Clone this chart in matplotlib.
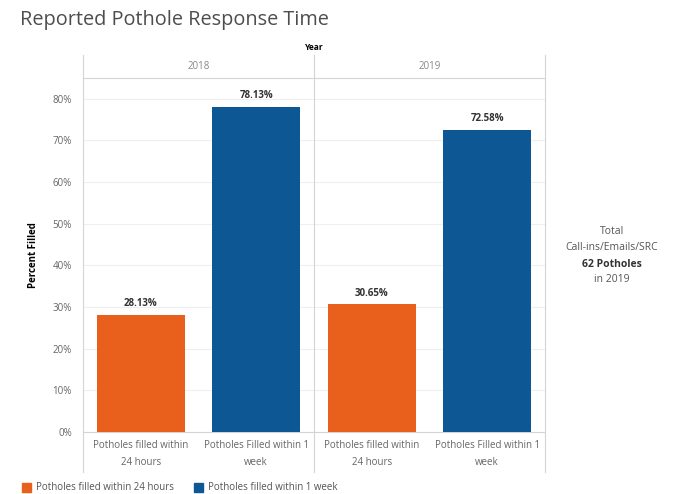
import matplotlib
matplotlib.use("Agg")
import matplotlib.pyplot as plt
import numpy as np
from matplotlib.patches import Rectangle

plt.rcParams["font.family"] = ["Open Sans", "DejaVu Sans"]

years = ["2018", "2019"]
categories = ["Potholes filled within\n24 hours", "Potholes Filled within 1\nweek"]
pct_24h = [28.13, 30.65]
pct_week = [78.13, 72.58]
legend_labels = ["Potholes filled within 24 hours", "Potholes filled within 1 week"]

orange = "#E8601C"
blue = "#0D5794"
text_gray = "#666666"
line_gray = "#d4d4d4"

fig = plt.figure(figsize=(6.88, 4.94), dpi=100)

left, mid, right = 83 / 688, 314 / 688, 545 / 688
bottom, top, head_top = 1 - 432 / 494, 1 - 78 / 494, 1 - 55 / 494
y_max = 85

fig.text(20 / 688, 1 - 20 / 494, "Reported Pothole Response Time", fontsize=14.3,
         color="#4d4d4d", va="center", ha="left")
fig.text(mid, 1 - 47 / 494, "Year", fontsize=6, fontweight="bold", ha="center", va="center")
fig.text(33 / 688, (bottom + top) / 2, "Percent Filled", fontsize=7, fontweight="bold",
         rotation=90, ha="center", va="center")

axes = []
for i, year in enumerate(years):
    x0 = left if i == 0 else mid
    ax = fig.add_axes([x0, bottom, mid - left, top - bottom])
    vals = [pct_24h[i], pct_week[i]]
    x = np.arange(2)
    bars = ax.bar(x, vals, width=0.76, color=[orange, blue], zorder=3)
    for b, v in zip(bars, vals):
        ax.text(b.get_x() + b.get_width() / 2, v + 1.3, f"{v:.2f}%", ha="center", va="bottom",
                fontsize=7, fontweight="bold", color="#333333")
    ax.set_xlim(-0.5, 1.5)
    ax.set_ylim(0, y_max)
    ax.set_yticks(np.arange(0, 90, 10))
    ax.set_xticks(x)
    ax.set_xticklabels(categories, fontsize=7, color=text_gray, linespacing=1.75)
    ax.tick_params(axis="x", length=0, pad=6)
    if i == 0:
        ax.set_yticklabels([f"{t}%" for t in range(0, 90, 10)], fontsize=7, color=text_gray)
        ax.tick_params(axis="y", length=0, pad=8)
    else:
        ax.tick_params(axis="y", length=0, labelleft=False)
    ax.grid(axis="y", color="#efefef", linewidth=0.8, zorder=0)
    for s in ax.spines.values():
        s.set_visible(False)
    ax.spines["bottom"].set_visible(True)
    ax.spines["bottom"].set_color(line_gray)
    axes.append(ax)

    # year header
    fig.text((x0 + x0 + mid - left) / 2, (top + head_top) / 2, year, fontsize=7,
             color="#888888", ha="center", va="center")

# header underline and column dividers
fig.add_artist(plt.Line2D([left, right], [top, top], color=line_gray, linewidth=0.8))
for xv in (left, mid, right):
    fig.add_artist(plt.Line2D([xv, xv], [1 - 472 / 494, head_top], color=line_gray, linewidth=0.8))

# side note
note_x = 612 / 688
fig.text(note_x, 1 - 232 / 494, "Total", fontsize=7.5, color="#555555", ha="center", va="center")
fig.text(note_x, 1 - 248 / 494, "Call-ins/Emails/SRC", fontsize=7.5, color="#555555",
         ha="center", va="center")
fig.text(note_x, 1 - 264 / 494, "62 Potholes", fontsize=7.5, fontweight="bold",
         color="#333333", ha="center", va="center")
fig.text(note_x, 1 - 280 / 494, "in 2019", fontsize=7.5, color="#555555", ha="center", va="center")

# legend
for color, label, lx in zip([orange, blue], legend_labels, [22, 194]):
    fig.add_artist(Rectangle((lx / 688, 1 - 492 / 494), 9 / 688, 9 / 494, color=color,
                             transform=fig.transFigure))
    fig.text((lx + 14) / 688, 1 - 487.5 / 494, label, fontsize=7, color="#555555",
             ha="left", va="center")

fig.savefig("out.png", dpi=100)
